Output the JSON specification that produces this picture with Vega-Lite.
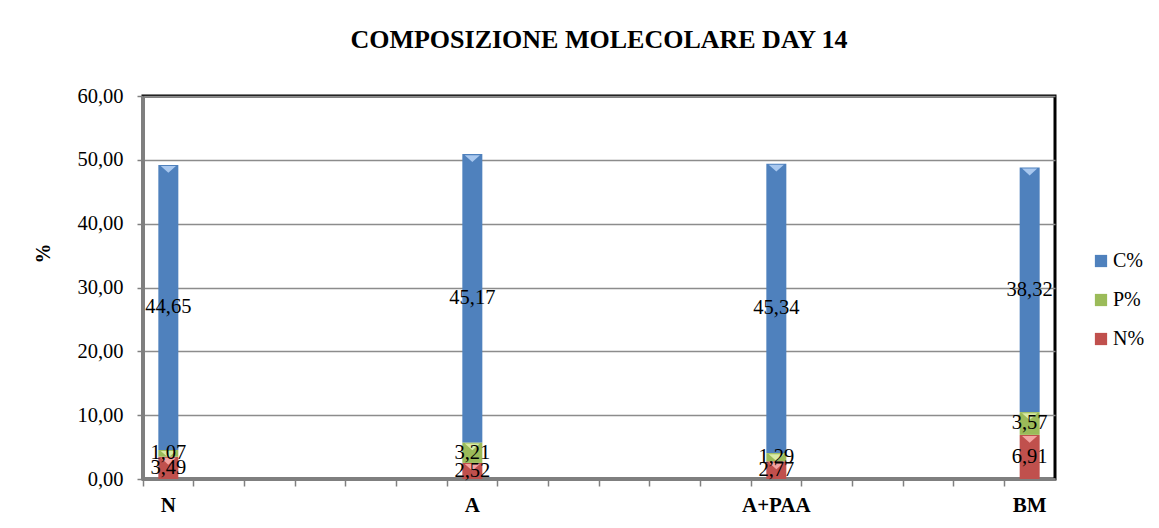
{
  "$schema": "https://vega.github.io/schema/vega-lite/v6.json",
  "width": 912,
  "height": 383,
  "autosize": {"type": "none"},
  "padding": {"left": 143, "top": 96, "right": 104, "bottom": 49},
  "background": "white",
  "title": {
    "text": "COMPOSIZIONE MOLECOLARE DAY 14",
    "font": "Liberation Serif",
    "fontSize": 26,
    "fontWeight": "bold",
    "color": "black",
    "anchor": "middle",
    "offset": 33
  },
  "config": {
    "view": {"stroke": "black", "strokeWidth": 3},
    "font": "Liberation Serif"
  },
  "data": {
    "values": [
      {"cat": "N", "series": "N%", "value": 3.49},
      {"cat": "N", "series": "P%", "value": 1.07},
      {"cat": "N", "series": "C%", "value": 44.65},
      {"cat": "A", "series": "N%", "value": 2.52},
      {"cat": "A", "series": "P%", "value": 3.21},
      {"cat": "A", "series": "C%", "value": 45.17},
      {"cat": "A+PAA", "series": "N%", "value": 2.77},
      {"cat": "A+PAA", "series": "P%", "value": 1.29},
      {"cat": "A+PAA", "series": "C%", "value": 45.34},
      {"cat": "BM", "series": "N%", "value": 6.91},
      {"cat": "BM", "series": "P%", "value": 3.57},
      {"cat": "BM", "series": "C%", "value": 38.32}
    ]
  },
  "transform": [
    {"calculate": "indexof(['N%','P%','C%'], datum.series)", "as": "rank"},
    {"stack": "value", "groupby": ["cat"], "sort": [{"field": "rank", "order": "ascending"}], "as": ["v0", "v1"]},
    {"calculate": "(datum.v0 + datum.v1) / 2", "as": "mid"},
    {"calculate": "replace(format(datum.value, '.2f'), '.', ',')", "as": "lbl"}
  ],
  "encoding": {
    "x": {
      "field": "cat",
      "type": "nominal",
      "scale": {
        "domain": ["N", "_1", "_2", "_3", "_4", "_5", "A", "_7", "_8", "_9", "_10", "_11", "A+PAA", "_13", "_14", "_15", "_16", "BM"],
        "paddingInner": 0,
        "paddingOuter": 0
      },
      "axis": {
        "title": null,
        "bandPosition": 0,
        "labelExpr": "indexof(datum.label, '_') == 0 ? '' : datum.label",
        "labelAngle": 0,
        "labelDx": 25.3,
        "labelFont": "Liberation Serif",
        "labelFontSize": 21,
        "labelFontWeight": "bold",
        "labelColor": "black",
        "labelPadding": 8,
        "tickColor": "#808080",
        "tickWidth": 1.5,
        "tickSize": 7,
        "domainColor": "#7f7f7f",
        "domainWidth": 3,
        "grid": false
      }
    }
  },
  "layer": [
    {
      "mark": {"type": "bar", "width": 20},
      "encoding": {
        "y": {
          "field": "v0",
          "type": "quantitative",
          "scale": {"domain": [0, 60], "nice": false},
          "axis": {
            "title": "%",
            "titleFont": "Liberation Serif",
            "titleFontSize": 20,
            "titleFontWeight": "bold",
            "titleColor": "black",
            "titleX": -90,
            "titleY": 157,
            "values": [0, 10, 20, 30, 40, 50, 60],
            "labelExpr": "replace(format(datum.value, '.2f'), '.', ',')",
            "labelFont": "Liberation Serif",
            "labelFontSize": 20.5,
            "labelColor": "black",
            "labelPadding": 14,
            "tickColor": "#808080",
            "tickWidth": 1.5,
            "tickSize": 6,
            "domainColor": "#7f7f7f",
            "domainWidth": 3,
            "gridColor": "#8c8c8c",
            "gridWidth": 1.5
          }
        },
        "y2": {"field": "v1"},
        "color": {
          "field": "series",
          "type": "nominal",
          "scale": {"domain": ["C%", "P%", "N%"], "range": ["#4F81BD", "#9BBB59", "#C0504D"]},
          "legend": {
            "title": null,
            "orient": "none",
            "legendX": 948,
            "legendY": 155,
            "symbolType": "square",
            "symbolSize": 150,
            "symbolStrokeWidth": 0,
            "labelFont": "Liberation Serif",
            "labelFontSize": 20,
            "labelColor": "black",
            "rowPadding": 19,
            "labelOffset": 2
          }
        }
      }
    },
    {
      "mark": {"type": "point", "shape": "M-1,-0.45L1,-0.45L0,0.45Z", "size": 230, "filled": true, "opacity": 1, "strokeWidth": 0},
      "encoding": {
        "y": {"field": "v1", "type": "quantitative"},
        "yOffset": {"value": 4.5},
        "fill": {
          "field": "series",
          "type": "nominal",
          "scale": {"domain": ["C%", "P%", "N%"], "range": ["#A9C8EF", "#D9EBA6", "#F4A3A1"]},
          "legend": null
        }
      }
    },
    {
      "mark": {"type": "text", "font": "Liberation Serif", "fontSize": 20.5, "color": "black", "align": "center", "baseline": "middle"},
      "encoding": {
        "y": {"field": "mid", "type": "quantitative"},
        "text": {"field": "lbl"}
      }
    }
  ]
}
